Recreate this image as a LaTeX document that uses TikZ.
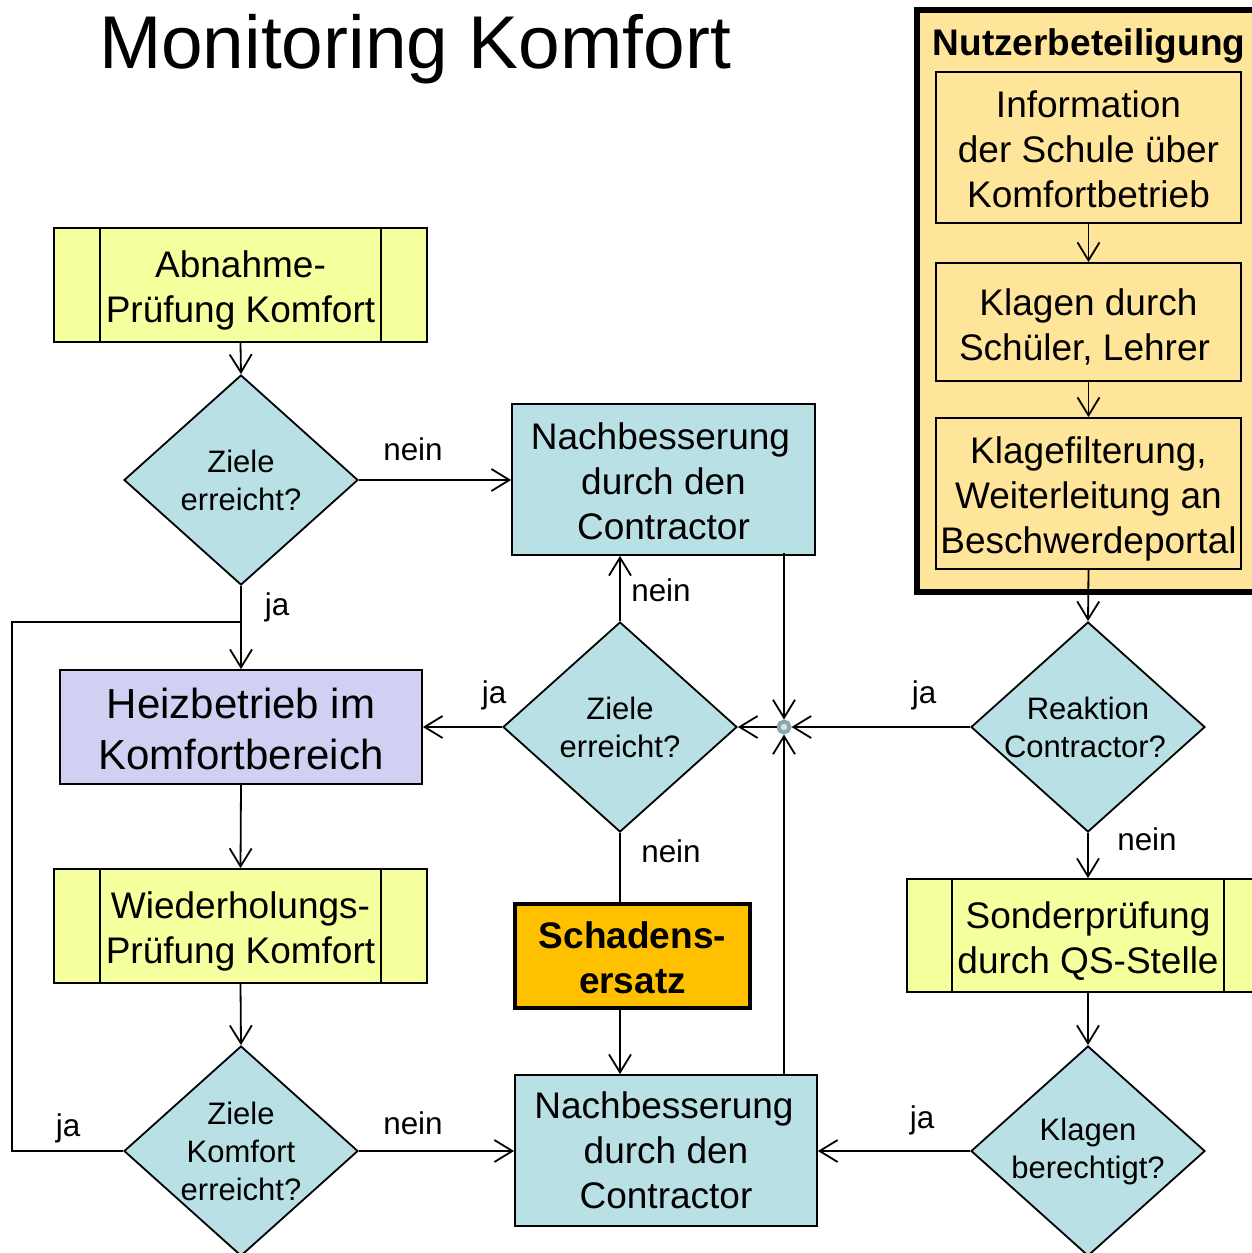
\documentclass[tikz,border=0pt]{standalone}
\usepackage{fontspec}
\setmainfont{Liberation Sans}
\usetikzlibrary{shapes.geometric,arrows.meta}
\definecolor{cyel}{RGB}{245,255,158}
\definecolor{cblue}{RGB}{185,224,228}
\definecolor{clav}{RGB}{208,208,242}
\definecolor{corange}{RGB}{255,192,0}
\definecolor{cpeach}{RGB}{255,229,153}
\definecolor{cring}{RGB}{140,168,172}
\definecolor{cringin}{RGB}{205,230,232}
\newcommand{\dnA}{\rule{0pt}{18.7pt}}
\newcommand{\dnB}{\rule{0pt}{15.5pt}}
\tikzset{
  box/.style={draw=black,line width=0.9pt,rectangle,inner sep=0pt,align=center,
    font=\fontsize{18.5pt}{22.5pt}\selectfont},
  dia/.style={draw=black,line width=0.9pt,fill=cblue,diamond,inner sep=0pt,
    minimum width=117pt,minimum height=105pt},
  dtext/.style={align=center,inner sep=0pt,font=\fontsize{15.5pt}{19pt}\selectfont},
  lab/.style={anchor=base,inner sep=0pt,font=\fontsize{15.7pt}{19pt}\selectfont},
  arr/.style={line width=0.9pt,-{Straight Barb[length=9pt,width=11pt,line width=0.9pt]}},
  ln/.style={line width=0.9pt}
}
\begin{document}
\begin{tikzpicture}[x=0.5pt,y=-0.5pt]
\useasboundingbox (0,0) rectangle (1252,1253);
\clip (0,0) rectangle (1252,1253);
\fill[white] (0,0) rectangle (1252,1253);

% title
\node[anchor=base,inner sep=0pt,font=\fontsize{37.4pt}{44pt}\selectfont] (title) at (415,68) {Monitoring Komfort};

% Nutzerbeteiligung frame
\node[draw=black,line width=3pt,fill=cpeach,rectangle,inner sep=0pt,
  minimum width=180pt,minimum height=291pt] (nutz) at (1097,301) {};
\node[anchor=base,inner sep=0pt,font=\bfseries\fontsize{18.5pt}{22pt}\selectfont] (nutzt) at (1089,55) {Nutzerbeteiligung};
\node[box,fill=cpeach,minimum width=152.5pt,minimum height=75.5pt] (info) at (1088.5,147.5) {\dnB Information\\der Schule über\\Komfortbetrieb};
\node[box,fill=cpeach,minimum width=152.5pt,minimum height=59pt] (klag) at (1088.5,322) {\dnA Klagen durch\\Schüler, Lehrer\hspace*{4pt}};
\node[box,fill=cpeach,minimum width=152.5pt,minimum height=75.5pt] (kfilt) at (1088.5,493.5) {\dnA Klagefilterung,\\Weiterleitung an\\Beschwerdeportal};

% left column
\node[box,fill=cyel,minimum width=186.5pt,minimum height=57pt] (abn) at (240.5,285) {\dnA Abnahme-\\Prüfung Komfort};
\draw[ln] ([xshift=23.5pt]abn.north west) -- ([xshift=23.5pt]abn.south west);
\draw[ln] ([xshift=-23.5pt]abn.north east) -- ([xshift=-23.5pt]abn.south east);

\node[dia] (d1) at (241,480) {};
\node[dtext] at (d1) {Ziele\\erreicht?};

\node[box,fill=clav,minimum width=181pt,minimum height=57pt,font=\fontsize{21pt}{25.5pt}\selectfont] (heiz) at (241,727) {\rule{0pt}{17pt}Heizbetrieb im\\Komfortbereich};

\node[box,fill=cyel,minimum width=186.5pt,minimum height=57pt] (wdh) at (240.5,926) {\dnA Wiederholungs-\\Prüfung Komfort};
\draw[ln] ([xshift=23.5pt]wdh.north west) -- ([xshift=23.5pt]wdh.south west);
\draw[ln] ([xshift=-23.5pt]wdh.north east) -- ([xshift=-23.5pt]wdh.south east);

\node[dia] (d3) at (241,1151) {};
\node[dtext] at (d3) {Ziele\\Komfort\\erreicht?};

% middle column
\node[box,fill=cblue,minimum width=151.5pt,minimum height=75.5pt] (nb1) at (663.5,479.5) {\dnB Nachbesserung\hspace*{3pt}\\durch den\hspace*{3pt}\\Contractor};
\node[dia] (d2) at (620,727) {};
\node[dtext] at (d2) {Ziele\\erreicht?};
\node[box,fill=corange,line width=2pt,minimum width=117.5pt,minimum height=52pt,
  font=\bfseries\fontsize{18.5pt}{22.5pt}\selectfont] (sch) at (632.5,956) {\dnB Schadens-\\ersatz};
\node[box,fill=cblue,minimum width=151pt,minimum height=75.5pt] (nb2) at (666,1150.5) {Nachbesserung\hspace*{2pt}\\durch den\hspace*{2pt}\\Contractor};

% right column
\node[dia] (d4) at (1088,727) {};
\node[dtext] at (d4) {Reaktion\\Contractor?\hspace*{3pt}};
\node[box,fill=cyel,minimum width=181pt,minimum height=56.5pt] (sond) at (1088,935.5) {\dnA Sonderprüfung\\durch QS-Stelle};
\draw[ln] ([xshift=23pt]sond.north west) -- ([xshift=23pt]sond.south west);
\draw[ln] ([xshift=-23pt]sond.north east) -- ([xshift=-23pt]sond.south east);
\node[dia] (d5) at (1088,1151) {};
\node[dtext] at (d5) {Klagen\\berechtigt?};

% junction dot
\node[circle,draw=cring,line width=2pt,fill=cringin,inner sep=0pt,minimum size=5.5pt] (j) at (784,727) {};

% connectors
\coordinate (lc) at (12,1151);
\coordinate (jt) at (241,622);
\draw[arr] (abn.south) -- (d1.north);
\draw[arr] (d1.east) -- (d1.east -| nb1.west);
\draw[arr] (d1.south) -- (heiz.north);
\draw[ln] (d3.west) -- (lc) |- (jt);
\draw[arr] (heiz.south) -- (wdh.north);
\draw[arr] (wdh.south) -- (d3.north);
\draw[arr] (d3.east) -- (d3.east -| nb2.west);
\draw[arr] (d2.north) -- (d2.north |- nb1.south);
\draw[arr] (d2.west) -- (d2.west -| heiz.east);
\draw[ln] (d2.south) -- (d2.south |- sch.north);
\draw[arr] (sch.south -| d2) -- (nb2.north -| d2);
\draw[arr] ([yshift=1.5pt]nb1.south -| j) -- (j);
\draw[arr] (nb2.north -| j) -- (j);
\draw[arr] (d4.west) -- (j);
\draw[arr] (j) -- (d2.east);
\draw[arr] (info.south) -- (klag.north);
\draw[arr] (klag.south) -- (kfilt.north);
\draw[arr] (kfilt.south) -- (d4.north);
\draw[arr] (d4.south) -- (sond.north);
\draw[arr] (sond.south) -- (d5.north);
\draw[arr] (d5.west) -- (d5.west -| nb2.east);

% labels
\node[lab] (l1) at (413,460) {nein};
\node[lab] (l2) at (277,615) {ja};
\node[lab] (l3) at (661,601) {nein};
\node[lab] (l4) at (494,703) {ja};
\node[lab] (l5) at (671,862) {nein};
\node[lab] (l6) at (924,703) {ja};
\node[lab] (l7) at (1147,850) {nein};
\node[lab] (l8) at (68,1136) {ja};
\node[lab] (l9) at (413,1134) {nein};
\node[lab] (l10) at (922,1128) {ja};
\end{tikzpicture}
\end{document}
